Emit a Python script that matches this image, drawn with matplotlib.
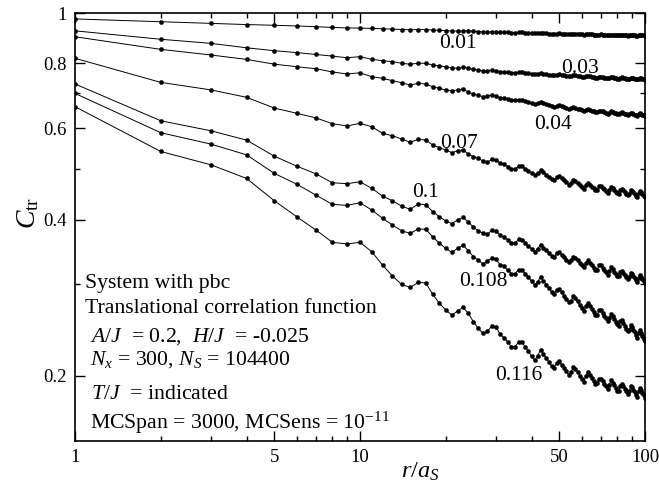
import numpy as np
import matplotlib
matplotlib.use('Agg')
import matplotlib.pyplot as plt
from matplotlib.ticker import NullFormatter

plt.rcParams['font.family'] = ['Liberation Serif', 'DejaVu Serif']
plt.rcParams['mathtext.fontset'] = 'custom'
plt.rcParams['mathtext.rm'] = 'Liberation Serif'
plt.rcParams['mathtext.it'] = 'Liberation Serif:italic'

# distance r/a_S (integer lattice steps)
r = np.arange(1, 101)

# C_tr(r) for each T/J
c_001 = [
    0.974, 0.962, 0.955, 0.950, 0.947, 0.944, 0.941, 0.938, 0.936, 0.935,
    0.934, 0.9324, 0.9309, 0.9294, 0.9284, 0.9291, 0.9289, 0.9274, 0.9259, 0.9244,
    0.9231, 0.9233, 0.9244, 0.9236, 0.9224, 0.9211, 0.9199, 0.9188, 0.9198, 0.9204,
    0.9194, 0.9183, 0.9173, 0.9162, 0.9162, 0.9174, 0.9173, 0.9163, 0.9153, 0.9142,
    0.9133, 0.9143, 0.9156, 0.9147, 0.9137, 0.9128, 0.9119, 0.9115, 0.9128, 0.9132,
    0.9124, 0.9116, 0.9108, 0.9099, 0.9105, 0.912, 0.9116, 0.9108, 0.9099, 0.9091,
    0.9084, 0.9098, 0.9108, 0.91, 0.9091, 0.9083, 0.9074, 0.9076, 0.909, 0.9091,
    0.9084, 0.9077, 0.9069, 0.9062, 0.9074, 0.9089, 0.9082, 0.9074, 0.9067, 0.906,
    0.9058, 0.9073, 0.9079, 0.9072, 0.9065, 0.9058, 0.905, 0.9057, 0.9073, 0.907,
    0.9064, 0.9056, 0.905, 0.9044, 0.906, 0.9071, 0.9065, 0.9057, 0.9051, 0.9043,
]
c_003 = [
    0.924, 0.890, 0.874, 0.857, 0.846, 0.839, 0.832, 0.826, 0.820, 0.824,
    0.8143, 0.8093, 0.8058, 0.8002, 0.7967, 0.8002, 0.8002, 0.7942, 0.7903, 0.7879,
    0.7845, 0.7824, 0.7859, 0.7824, 0.779, 0.7766, 0.7732, 0.7732, 0.7756, 0.7742,
    0.7712, 0.7702, 0.7684, 0.7664, 0.7665, 0.769, 0.7688, 0.767, 0.765, 0.763,
    0.7613, 0.7634, 0.766, 0.7642, 0.7625, 0.7607, 0.759, 0.7582, 0.761, 0.7619,
    0.7602, 0.7585, 0.7568, 0.755, 0.7563, 0.7591, 0.7583, 0.7565, 0.7549, 0.7531,
    0.7517, 0.7547, 0.7568, 0.7552, 0.7536, 0.752, 0.7504, 0.7509, 0.7538, 0.7541,
    0.7526, 0.7511, 0.7496, 0.7482, 0.7505, 0.7535, 0.752, 0.7506, 0.7491, 0.7477,
    0.7473, 0.7505, 0.7517, 0.7502, 0.7489, 0.7474, 0.7459, 0.7474, 0.7506, 0.75,
    0.7486, 0.7472, 0.7458, 0.7446, 0.7478, 0.75, 0.7486, 0.7472, 0.7457, 0.7444,
]
c_004 = [
    0.900, 0.851, 0.830, 0.814, 0.797, 0.788, 0.781, 0.770, 0.763, 0.767,
    0.7538, 0.7485, 0.7406, 0.734, 0.7265, 0.732, 0.7297, 0.7211, 0.716, 0.7107,
    0.7076, 0.7107, 0.7138, 0.7035, 0.6981, 0.6949, 0.6897, 0.6918, 0.6949, 0.6927,
    0.687, 0.6858, 0.6825, 0.6791, 0.6786, 0.6811, 0.6803, 0.6769, 0.6736, 0.6702,
    0.6673, 0.6696, 0.6727, 0.6698, 0.6669, 0.664, 0.6611, 0.6597, 0.6628, 0.6635,
    0.661, 0.6585, 0.656, 0.6534, 0.6548, 0.6583, 0.6569, 0.6544, 0.6519, 0.6493,
    0.6473, 0.6509, 0.6535, 0.6512, 0.6489, 0.6465, 0.6442, 0.6447, 0.6482, 0.6484,
    0.6463, 0.6441, 0.642, 0.6399, 0.6429, 0.6468, 0.6447, 0.6426, 0.6405, 0.6384,
    0.6379, 0.6419, 0.6435, 0.6415, 0.6397, 0.6377, 0.6357, 0.6376, 0.6417, 0.6408,
    0.639, 0.637, 0.6351, 0.6335, 0.6375, 0.6405, 0.6386, 0.6366, 0.6347, 0.6328,
]
c_007 = [
    0.818, 0.735, 0.711, 0.688, 0.656, 0.641, 0.628, 0.612, 0.606, 0.613,
    0.6038, 0.5864, 0.5801, 0.5718, 0.5635, 0.5711, 0.5693, 0.5567, 0.5502, 0.5446,
    0.5381, 0.5429, 0.5446, 0.535, 0.5285, 0.5248, 0.5186, 0.5156, 0.5225, 0.5209,
    0.514, 0.5107, 0.5057, 0.5006, 0.5007, 0.5068, 0.5063, 0.5013, 0.4962, 0.4911,
    0.4864, 0.4912, 0.4976, 0.4929, 0.4881, 0.4833, 0.4786, 0.4765, 0.483, 0.485,
    0.4806, 0.4762, 0.4718, 0.4673, 0.4701, 0.4771, 0.4749, 0.4704, 0.466, 0.4616,
    0.4587, 0.4656, 0.4704, 0.4668, 0.4631, 0.4593, 0.4557, 0.4568, 0.4636, 0.4643,
    0.4608, 0.4574, 0.4539, 0.4504, 0.4559, 0.463, 0.4596, 0.4561, 0.4527, 0.4492,
    0.4485, 0.4557, 0.4586, 0.4553, 0.4519, 0.4485, 0.4451, 0.4486, 0.4558, 0.4545,
    0.4513, 0.448, 0.4448, 0.442, 0.4493, 0.4545, 0.4513, 0.448, 0.4447, 0.4415,
]
c_010 = [
    0.730, 0.620, 0.593, 0.569, 0.530, 0.507, 0.490, 0.471, 0.469, 0.473,
    0.4594, 0.4439, 0.4348, 0.4247, 0.4186, 0.4285, 0.4275, 0.4142, 0.405, 0.3974,
    0.393, 0.3992, 0.404, 0.3953, 0.387, 0.3807, 0.3763, 0.3746, 0.3819, 0.3807,
    0.373, 0.3702, 0.3653, 0.3604, 0.3604, 0.3662, 0.3658, 0.3609, 0.356, 0.3511,
    0.3466, 0.3514, 0.3578, 0.3533, 0.3489, 0.3444, 0.34, 0.3382, 0.3446, 0.3467,
    0.3422, 0.3386, 0.3349, 0.3313, 0.3337, 0.3395, 0.3377, 0.334, 0.3304, 0.3268,
    0.3237, 0.3296, 0.3336, 0.3302, 0.3266, 0.3231, 0.3197, 0.3204, 0.3263, 0.3266,
    0.3233, 0.32, 0.3168, 0.3135, 0.3182, 0.3237, 0.3206, 0.3177, 0.3146, 0.3117,
    0.3109, 0.3165, 0.3186, 0.3158, 0.3129, 0.3101, 0.3072, 0.3099, 0.3155, 0.3143,
    0.3115, 0.3088, 0.306, 0.3037, 0.3093, 0.3134, 0.3106, 0.3078, 0.305, 0.3023,
]
c_0108 = [
    0.700, 0.588, 0.559, 0.533, 0.491, 0.468, 0.446, 0.428, 0.426, 0.431,
    0.4173, 0.4022, 0.3904, 0.3807, 0.3763, 0.3836, 0.3831, 0.3706, 0.36, 0.352,
    0.3458, 0.352, 0.3572, 0.3483, 0.3392, 0.3343, 0.3284, 0.3333, 0.3368, 0.3353,
    0.3275, 0.3249, 0.3198, 0.3146, 0.3146, 0.3205, 0.3199, 0.3148, 0.3096, 0.3044,
    0.2992, 0.3038, 0.3099, 0.3049, 0.2997, 0.2948, 0.2902, 0.2879, 0.293, 0.2941,
    0.2899, 0.2856, 0.2814, 0.2772, 0.2792, 0.2848, 0.2825, 0.2783, 0.274, 0.2698,
    0.2665, 0.2724, 0.2766, 0.2729, 0.2691, 0.2652, 0.2615, 0.2622, 0.268, 0.2683,
    0.2642, 0.2612, 0.2581, 0.2551, 0.2587, 0.2634, 0.2603, 0.2573, 0.2542, 0.2512,
    0.2499, 0.2546, 0.2561, 0.2529, 0.2498, 0.2467, 0.2435, 0.2453, 0.2501, 0.2484,
    0.2454, 0.2425, 0.2395, 0.2369, 0.2417, 0.245, 0.242, 0.239, 0.236, 0.233,
]
c_0116 = [
    0.660, 0.541, 0.510, 0.480, 0.435, 0.405, 0.382, 0.3616, 0.359, 0.3616,
    0.3468, 0.3268, 0.3113, 0.3, 0.296, 0.3026, 0.3021, 0.2871, 0.2759, 0.2678,
    0.2619, 0.2666, 0.271, 0.2638, 0.2542, 0.2469, 0.2415, 0.2439, 0.2494, 0.2487,
    0.2405, 0.2369, 0.2323, 0.2276, 0.2275, 0.2327, 0.2322, 0.2275, 0.2229, 0.2182,
    0.2141, 0.2185, 0.2244, 0.2203, 0.2163, 0.2125, 0.209, 0.2075, 0.212, 0.2132,
    0.2102, 0.207, 0.204, 0.2009, 0.203, 0.208, 0.2064, 0.2034, 0.2002, 0.1972,
    0.1948, 0.1999, 0.2035, 0.2007, 0.1978, 0.1953, 0.1929, 0.1934, 0.1974, 0.1976,
    0.1954, 0.1932, 0.191, 0.1888, 0.1921, 0.1962, 0.194, 0.1918, 0.1896, 0.1874,
    0.1869, 0.1912, 0.193, 0.1909, 0.1888, 0.1867, 0.1845, 0.1866, 0.191, 0.1901,
    0.1881, 0.186, 0.184, 0.1822, 0.1867, 0.1899, 0.1878, 0.1857, 0.1836, 0.1816,
]

temps = ['0.01', '0.03', '0.04', '0.07', '0.1', '0.108', '0.116']
curves = [c_001, c_003, c_004, c_007, c_010, c_0108, c_0116]

# where each T/J label sits (data coords)
label_pos = [(22.1, 0.874), (59.2, 0.782), (47.5, 0.611), (22.3, 0.561),
             (17.0, 0.452), (27.2, 0.304), (36.1, 0.200)]

fig = plt.figure(figsize=(6.59, 4.91), dpi=100)
ax = fig.add_axes([75 / 659, 50 / 491, 570 / 659, 428 / 491])

for vals in curves:
    ax.plot(r, vals, '-', color='black', lw=0.7, marker='o', ms=3.0,
            mfc='black', mec='black', mew=0.3)

for t, (lx, ly) in zip(temps, label_pos):
    ax.text(lx, ly, t, fontsize=15.5, ha='center', va='center')

ax.set_xscale('log')
ax.set_yscale('log')
ax.set_xlim(1, 100)
ax.set_ylim(0.1498, 1.0)

ax.set_xticks([1, 5, 10, 50, 100])
ax.set_xticklabels(['1', '5', '10', '50', '100'])
ax.set_xticks([2, 3, 4, 6, 7, 8, 9, 20, 30, 40, 60, 70, 80, 90], minor=True)
ax.set_yticks([0.2, 0.4, 0.6, 0.8, 1.0])
ax.set_yticklabels(['0.2', '0.4', '0.6', '0.8', '1'])
ax.set_yticks([0.3, 0.5, 0.7], minor=True)
ax.xaxis.set_minor_formatter(NullFormatter())
ax.yaxis.set_minor_formatter(NullFormatter())

ax.tick_params(which='both', direction='in', top=True, right=True,
               width=1.0, labelsize=13.5, pad=6)
ax.tick_params(which='major', length=7)
ax.tick_params(which='minor', length=3.6)
for s in ax.spines.values():
    s.set_linewidth(1.2)

fig.text(28 / 659, 1 - 213 / 491, r'$C_{\mathrm{tr}}$', fontsize=20,
         rotation=90, ha='center', va='center')
fig.text(420 / 659, 1 - 472 / 491, r'$r/a_S$', fontsize=17.5,
         ha='center', va='center')

# parameter block, lower left
info = [
    (85, 287.7, 'System with pbc'),
    (85, 313.3, 'Translational correlation function'),
    (90, 341.7, r'$A/J$  = 0.2,  $H/J$  = -0.025'),
    (90, 365.0, r'$N_x$ = 300, $N_S$ = 104400'),
    (91, 399.0, r'$T/J$  = indicated'),
    (90, 428.3, r'MCSpan = 3000, MCSens = 10$^{\mathregular{-11}}$'),
]
for px, py, txt in info:
    ax.text((px - 75) / 570, (441 - py) / 428, txt, transform=ax.transAxes,
            fontsize=15.7, ha='left', va='baseline')

fig.savefig('out.png', dpi=100)
